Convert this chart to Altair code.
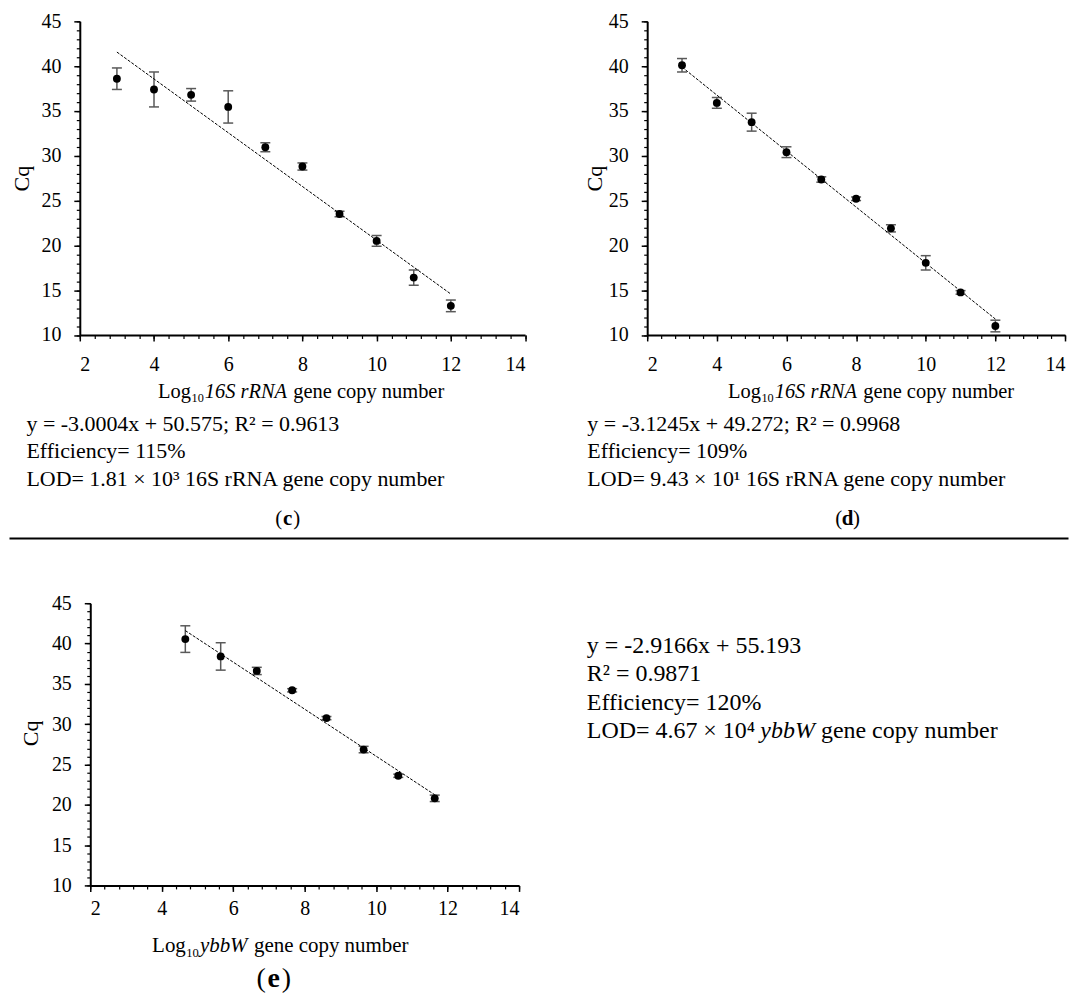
import altair as alt
import pandas as pd

FONT = "Liberation Serif"
GREY = "#595959"

# ---------------- data ----------------
# panel (c)
c_x = [3, 4, 5, 6, 7, 8, 9, 10, 11, 12]
c_cq = [38.6, 37.4, 36.8, 35.45, 30.95, 28.8, 23.5, 20.5, 16.4, 13.25]
c_sd = [1.2, 1.95, 0.7, 1.8, 0.5, 0.4, 0.3, 0.6, 0.85, 0.65]
c_slope, c_intercept = -3.0004, 50.575

# panel (d)
d_x = [3, 4, 5, 6, 7, 8, 9, 10, 11, 12]
d_cq = [40.1, 35.9, 33.75, 30.4, 27.35, 25.2, 21.9, 18.05, 14.75, 11.0]
d_sd = [0.75, 0.6, 1.0, 0.6, 0.3, 0.2, 0.4, 0.8, 0.2, 0.65]
d_slope, d_intercept = -3.1245, 49.272

# panel (e)
e_x = [4.66, 5.65, 6.66, 7.65, 8.61, 9.65, 10.62, 11.64]
e_cq = [40.55, 38.4, 36.6, 34.2, 30.75, 26.85, 23.6, 20.8]
e_sd = [1.65, 1.7, 0.45, 0.2, 0.2, 0.4, 0.2, 0.4]
e_slope, e_intercept = -2.9166, 55.193

# axis ticks
X_MAJOR = [2, 4, 6, 8, 10, 12, 14]
X_MINOR = [round(2 + 0.4 * k, 1) for k in range(31)]
Y_MAJOR = [10, 15, 20, 25, 30, 35, 40, 45]
Y_MINOR = list(range(10, 46))

# texts
c_lines = ["y = -3.0004x + 50.575; R² = 0.9613", "Efficiency= 115%",
           "LOD= 1.81 × 10³ 16S rRNA gene copy number"]
d_lines = ["y = -3.1245x + 49.272; R² = 0.9968", "Efficiency= 109%",
           "LOD= 9.43 × 10¹ 16S rRNA gene copy number"]
e_lines = ["y = -2.9166x + 55.193", "R² = 0.9871", "Efficiency= 120%"]
e_lod = ["LOD= 4.67 × 10⁴", "ybbW", "gene copy number"]
title_16s = ["Log", "10", "16S rRNA", "gene copy number"]
title_ybbw = ["Log", "10", "ybbW", "gene copy number"]

ONE = pd.DataFrame({"k": [0]})


def txt(s, x, y, size, style="normal", weight="normal", align="left",
        baseline="alphabetic"):
    return alt.Chart(ONE).mark_text(
        text=s, font=FONT, fontSize=size, fontStyle=style, fontWeight=weight,
        align=align, baseline=baseline, color="black"
    ).encode(x=alt.value(x), y=alt.value(y))


def xtitle(parts, start, y, size, italic_em):
    log_w = 1.611 * size
    sub_x = start + log_w + 0.5
    it_x = sub_x + 0.6 * size + 1
    rest_x = it_x + italic_em * size + 0.3 * size
    return [
        txt(parts[0], start, y, size),
        txt(parts[1], sub_x, y + 0.22 * size, 0.6 * size),
        txt(parts[2], it_x, y, size, style="italic"),
        txt(parts[3], rest_x, y, size),
    ]


def label(letter, cx, y, size, gap):
    return [
        txt("(", cx - gap, y, size, align="right"),
        txt(letter, cx, y, size, weight="bold", align="center"),
        txt(")", cx + gap, y, size, align="left"),
    ]


def panel(xs, cq, sd, slope, intercept, W, H, xpad, cq_x, cq_y, extras):
    df = pd.DataFrame({"x": xs, "cq": cq, "sd": sd})
    df["lo"] = df["cq"] - df["sd"]
    df["hi"] = df["cq"] + df["sd"]
    fit = pd.DataFrame({"x": [min(xs), max(xs)]})
    fit["fit"] = slope * fit["x"] + intercept

    xsc = alt.Scale(domain=[2, 14], nice=False, zero=False)
    ysc = alt.Scale(domain=[10, 45], nice=False, zero=False)
    lab = dict(labelFont=FONT, labelFontSize=20, labelColor="black")

    x_major = alt.Axis(values=X_MAJOR, orient="bottom", grid=False, tickSize=6,
                       tickWidth=1.5, tickColor="black", domainColor="black",
                       domainWidth=2, labelPadding=xpad, title=None, **lab)
    x_minor = alt.Axis(values=X_MINOR, orient="bottom", grid=False, tickSize=3.5,
                       tickWidth=1.2, tickColor="black", domain=False,
                       labels=False, title=None)
    y_major = alt.Axis(values=Y_MAJOR, orient="left", grid=False, tickSize=6,
                       tickWidth=1.5, tickColor="black", domainColor="black",
                       domainWidth=2, labelPadding=13, title="Cq",
                       titleX=cq_x, titleY=cq_y, titleAngle=270,
                       titleAlign="center", titleBaseline="middle",
                       titleFont=FONT, titleFontSize=22,
                       titleFontWeight="normal", titleColor="black", **lab)
    y_minor = alt.Axis(values=Y_MINOR, orient="left", grid=False, tickSize=3.5,
                       tickWidth=1.2, tickColor="black", domain=False,
                       labels=False, title=None)

    bars = alt.Chart(df).mark_rule(color=GREY, strokeWidth=1.5).encode(
        x=alt.X("x:Q", scale=xsc, axis=x_minor),
        y=alt.Y("lo:Q", scale=ysc, axis=y_minor),
        y2="hi:Q",
    )
    cap_lo = alt.Chart(df).mark_tick(orient="horizontal", size=10, thickness=1.5,
                                     color=GREY, opacity=1).encode(
        x=alt.X("x:Q", scale=xsc, axis=None),
        y=alt.Y("lo:Q", scale=ysc, axis=None),
    )
    cap_hi = alt.Chart(df).mark_tick(orient="horizontal", size=10, thickness=1.5,
                                     color=GREY, opacity=1).encode(
        x=alt.X("x:Q", scale=xsc, axis=None),
        y=alt.Y("hi:Q", scale=ysc, axis=None),
    )
    trend = alt.Chart(fit).mark_line(color="black", strokeWidth=1,
                                     strokeDash=[3, 1.5]).encode(
        x=alt.X("x:Q", scale=xsc, axis=None),
        y=alt.Y("fit:Q", scale=ysc, axis=None),
    )
    pts = alt.Chart(df).mark_circle(size=62, color="black", opacity=1).encode(
        x=alt.X("x:Q", scale=xsc, axis=x_major),
        y=alt.Y("cq:Q", scale=ysc, axis=y_major),
    )
    return alt.layer(bars, cap_lo, cap_hi, trend, pts, *extras).resolve_axis(
        x="independent", y="independent"
    ).properties(width=W, height=H)


TS = 20.5  # x-axis title size
BS = 22    # body text size

# ---- panel (c) ----
c_extras = []
c_extras += xtitle(title_16s, 78.5, 377.5, TS, 4.03)
c_extras += [txt(s, -53.5, 410.5 + 27.5 * i, BS) for i, s in enumerate(c_lines)]
c_extras += label("c", 208.5, 505.5, 21, 5.5)
c_extras += [alt.Chart(ONE).mark_rule(color="black", strokeWidth=2).encode(
    x=alt.value(-70.5), x2=alt.value(991.5), y=alt.value(518.5))]
c_chart = panel(c_x, c_cq, c_sd, c_slope, c_intercept, 446.5, 314.5, 14, -58,
                157.25, c_extras)

# ---- panel (d) ----
d_extras = []
d_extras += xtitle(title_16s, 81, 377.5, TS, 4.03)
d_extras += [txt(s, -60, 410.5 + 27.5 * i, BS) for i, s in enumerate(d_lines)]
d_extras += label("d", 201, 505.5, 21, 5.5)
d_chart = panel(d_x, d_cq, d_sd, d_slope, d_intercept, 419, 314.5, 14, -53,
                157.25, d_extras)

# ---- panel (e) ----
ES = 24
e_extras = []
e_extras += xtitle(title_ybbw, 62, 350, 21, 2.28)
e_extras += label("e", 184, 385, 28, 8)
e_extras += [txt(s, 498, 50 + 28.3 * i, ES) for i, s in enumerate(e_lines)]
lod_y = 50 + 28.3 * 3
e_extras += [
    txt(e_lod[0], 498, lod_y, ES),
    txt(e_lod[1], 498 + 7.25 * ES, lod_y, ES, style="italic"),
    txt(e_lod[2], 498 + 7.25 * ES + 2.28 * ES + 0.25 * ES, lod_y, ES),
]
e_chart = panel(e_x, e_cq, e_sd, e_slope, e_intercept, 430, 283, 7, -60,
                130, e_extras)

spacer = alt.Chart(ONE).mark_point(opacity=0).encode(
    x=alt.value(0), y=alt.value(0)).properties(width=1, height=283)

top = alt.hconcat(c_chart, d_chart, spacing=122, bounds="flush")
bottom = alt.hconcat(spacer, e_chart, spacing=9.5, bounds="flush")
# nested rows count as zero height under flush bounds, so spacing is top-to-top
chart = alt.vconcat(top, bottom, spacing=583.5, bounds="flush").properties(
    padding={"left": 0, "top": 2, "right": 0, "bottom": 0}
).configure(background="white").configure_view(stroke=None)

chart.save("out.html", embed_options={"renderer": "svg", "actions": False})
